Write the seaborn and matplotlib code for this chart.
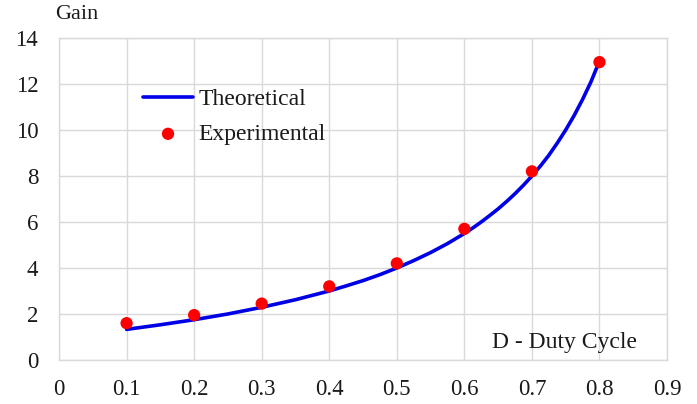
import matplotlib
matplotlib.use("Agg")
import matplotlib.pyplot as plt
import seaborn as sns
import pandas as pd

# curva teórica
duty_teo = [0.1, 0.15, 0.2, 0.25, 0.3, 0.35, 0.4, 0.425, 0.45, 0.475, 0.5,
            0.525, 0.55, 0.575, 0.6, 0.6125, 0.625, 0.6375, 0.65, 0.6625,
            0.675, 0.6875, 0.7, 0.7125, 0.725, 0.7375, 0.75, 0.7625, 0.775,
            0.7875, 0.8]
gain_teo = [1.33, 1.53, 1.75, 2.0, 2.29, 2.62, 3.0, 3.22, 3.45, 3.71, 4.0,
            4.32, 4.67, 5.06, 5.5, 5.74, 6.0, 6.28, 6.57, 6.89,
            7.23, 7.6, 8.0, 8.43, 8.9, 9.43, 10.0, 10.63, 11.33,
            12.1, 13.0]

# pontos experimentais
duty_exp = [0.1, 0.2, 0.3, 0.4, 0.5, 0.6, 0.7, 0.8]
gain_exp = [1.6, 1.95, 2.45, 3.2, 4.2, 5.7, 8.2, 12.95]

x_ticks = [0, 0.1, 0.2, 0.3, 0.4, 0.5, 0.6, 0.7, 0.8, 0.9]
y_ticks = [0, 2, 4, 6, 8, 10, 12, 14]

sns.set_theme(style="white")
plt.rcParams["font.family"] = ["Liberation Serif", "DejaVu Serif"]

df_teo = pd.DataFrame({"D": duty_teo, "Gain": gain_teo})
df_exp = pd.DataFrame({"D": duty_exp, "Gain": gain_exp})

fig = plt.figure(figsize=(6.97, 4.04), dpi=100)
ax = fig.add_axes([0.0847, 0.109, 0.8723, 0.797])

sns.lineplot(data=df_teo, x="D", y="Gain", color="#0000e6", linewidth=2.6,
             label="Theoretical", ax=ax)
sns.scatterplot(data=df_exp, x="D", y="Gain", color="#ff0000", s=78,
                edgecolor="none", label="Experimental", ax=ax, zorder=3)

ax.set_xlim(0, 0.9)
ax.set_ylim(0, 14)
ax.set_xticks(x_ticks)
ax.set_xticklabels([f"{v:g}" for v in x_ticks])
ax.set_yticks(y_ticks)
ax.tick_params(axis="both", labelsize=16.5, length=0, colors="#1a1a1a")
ax.tick_params(axis="x", pad=14)
ax.tick_params(axis="y", pad=15)
ax.grid(True, color="#d9d9d9", linewidth=1)
for s in ax.spines.values():
    s.set_color("#d9d9d9")
    s.set_linewidth(1)
ax.set_xlabel("")
ax.set_ylabel("")

leg = ax.legend(loc="upper left", bbox_to_anchor=(0.122, 0.871),
                frameon=False, fontsize=17, handlelength=2.15,
                handletextpad=0.2, labelspacing=0.55, borderaxespad=0)
for t in leg.get_texts():
    t.set_color("#1a1a1a")

fig.text(0.079, 0.963, "Gain", fontsize=16, va="center", ha="left",
         color="#1a1a1a")
ax.text(0.951, 0.053, "D - Duty Cycle", transform=ax.transAxes,
        fontsize=17, ha="right", va="center", color="#1a1a1a")

fig.savefig("out.png", dpi=100, facecolor="white")
